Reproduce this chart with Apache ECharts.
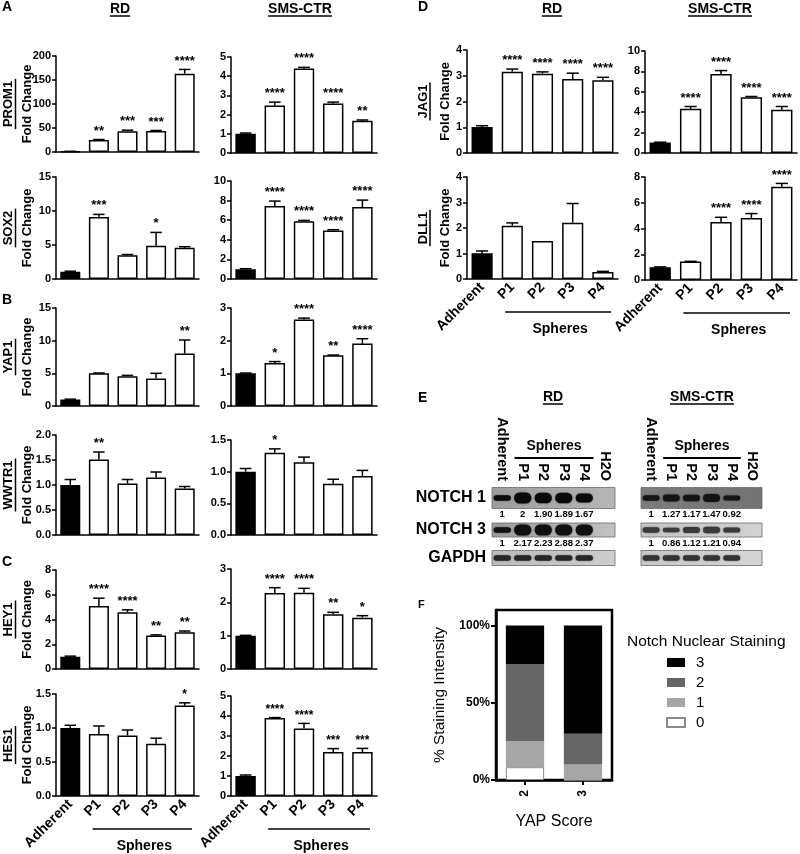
<!DOCTYPE html>
<html>
<head>
<meta charset="utf-8">
<title>Sphere gene expression</title>
<script src="https://cdn.jsdelivr.net/npm/echarts@6/dist/echarts.min.js"></script>
<style>
  html, body { margin: 0; padding: 0; background: #fff; }
  #chart { width: 800px; height: 854px; }
</style>
</head>
<body>
<div id="chart"></div>
<script>
const groups = ['Adherent', 'P1', 'P2', 'P3', 'P4'];

// A - stemness markers (fold change, mean / upper SEM / significance)
const prom1RD = [1, 25, 43, 44, 163];
const prom1RDErr = [0.5, 1, 2.5, 0.8, 9];
const prom1RDSig = ['', '**', '***', '***', '****'];
const prom1SMS = [1.0, 2.48, 4.4, 2.58, 1.68];
const prom1SMSErr = [0.04, 0.17, 0.06, 0.07, 0.04];
const prom1SMSSig = ['', '****', '****', '****', '**'];

const sox2RD = [1.05, 9.1, 3.5, 4.9, 4.6];
const sox2RDErr = [0.1, 0.4, 0.1, 1.95, 0.15];
const sox2RDSig = ['', '***', '', '*', ''];
const sox2SMS = [1.0, 7.45, 5.9, 4.95, 7.35];
const sox2SMSErr = [0.05, 0.5, 0.08, 0.08, 0.7];
const sox2SMSSig = ['', '****', '****', '****', '****'];

// B - YAP / TAZ
const yap1RD = [1.0, 5.0, 4.57, 4.2, 8.05];
const yap1RDErr = [0.05, 0.05, 0.12, 0.8, 2.05];
const yap1RDSig = ['', '', '', '', '**'];
const yap1SMS = [1.0, 1.32, 2.65, 1.55, 1.91];
const yap1SMSErr = [0.01, 0.04, 0.04, 0.01, 0.15];
const yap1SMSSig = ['', '*', '****', '**', '****'];

const wwtr1RD = [1.0, 1.51, 1.03, 1.15, 0.93];
const wwtr1RDErr = [0.11, 0.15, 0.08, 0.11, 0.04];
const wwtr1RDSig = ['', '**', '', '', ''];
const wwtr1SMS = [1.0, 1.3, 1.15, 0.81, 0.93];
const wwtr1SMSErr = [0.05, 0.06, 0.08, 0.07, 0.09];
const wwtr1SMSSig = ['', '*', '', '', ''];

// C - Notch targets
const hey1RD = [1.0, 5.1, 4.58, 2.7, 2.97];
const hey1RDErr = [0.04, 0.62, 0.2, 0.06, 0.1];
const hey1RDSig = ['', '****', '****', '**', '**'];
const hey1SMS = [1.0, 2.28, 2.29, 1.64, 1.54];
const hey1SMSErr = [0.01, 0.16, 0.13, 0.06, 0.06];
const hey1SMSSig = ['', '****', '****', '**', '*'];

const hes1RD = [1.0, 0.91, 0.89, 0.77, 1.33];
const hes1RDErr = [0.04, 0.12, 0.08, 0.08, 0.04];
const hes1RDSig = ['', '', '', '', '*'];
const hes1SMS = [1.0, 3.9, 3.38, 2.2, 2.2];
const hes1SMSErr = [0.05, 0.02, 0.25, 0.17, 0.18];
const hes1SMSSig = ['', '****', '****', '***', '***'];

// D - Notch ligands
const jag1RD = [1.01, 3.16, 3.08, 2.87, 2.83];
const jag1RDErr = [0.05, 0.1, 0.07, 0.23, 0.11];
const jag1RDSig = ['', '****', '****', '****', '****'];
const jag1SMS = [1.04, 4.33, 7.75, 5.47, 4.23];
const jag1SMSErr = [0.02, 0.23, 0.33, 0.07, 0.33];
const jag1SMSSig = ['', '****', '****', '****', '****'];

const dll1RD = [1.01, 2.09, 1.49, 2.21, 0.27];
const dll1RDErr = [0.09, 0.11, 0, 0.75, 0.03];
const dll1RDSig = ['', '', '', '', ''];
const dll1SMS = [1.0, 1.43, 4.5, 4.82, 7.24];
const dll1SMSErr = [0.02, 0.02, 0.37, 0.34, 0.26];
const dll1SMSSig = ['', '', '****', '****', '****'];

// E - RT-PCR gels (lanes, rows, band quantification)
const gelLanes = ['Adherent', 'P1', 'P2', 'P3', 'P4', 'H2O'];
const gelRows = ['NOTCH 1', 'NOTCH 3', 'GAPDH'];
const notch1RD = ['1', '2', '1.90', '1.89', '1.67'];
const notch3RD = ['1', '2.17', '2.23', '2.88', '2.37'];
const gapdhRD = ['1', '1', '1', '1', '1'];
const notch1SMS = ['1', '1.27', '1.17', '1.47', '0.92'];
const notch3SMS = ['1', '0.86', '1.12', '1.21', '0.94'];
const gapdhSMS = ['1', '1', '1', '1', '1'];

// F - Notch nuclear staining by YAP score (% of cases)
const yapScores = ['2', '3'];
const stainLevels = ['0', '1', '2', '3'];
const stain0 = [8.3, 0];
const stain1 = [16.7, 10];
const stain2 = [50, 20];
const stain3 = [25, 70];

const FONT = '"Liberation Sans", Arial, Helvetica, sans-serif';
const chart = echarts.init(document.getElementById('chart'));
const measure = document.createElement('canvas').getContext('2d');
function textW(str, font) { measure.font = font; return measure.measureText(str).width; }

function txt(x, y, text, font, o) {
  o = o || {};
  const al = o.align || 'center', va = o.va || 'middle';
  return { type: 'text', x, y, rotation: o.rot || 0, silent: true, z: 10,
    style: { text, font, fill: '#000', align: al, verticalAlign: va, textAlign: al, textVerticalAlign: va } };
}
function seg(x1, y1, x2, y2, w) {
  return { type: 'line', silent: true, z: 10, shape: { x1, y1, x2, y2 }, style: { stroke: '#000', lineWidth: w || 1.5 } };
}

const grids = [], xAxes = [], yAxes = [], series = [], gfx = [];

function errRender(sig, starSize) {
  return function (params, api) {
    const k = api.value(0), v = api.value(1), e = api.value(2);
    const base = api.coord([k, v]), top = api.coord([k, v + e]);
    const cap = api.size([1, 0])[0] * 0.2;
    const kids = [];
    if (e > 0) {
      kids.push({ type: 'line', shape: { x1: base[0], y1: base[1], x2: top[0], y2: top[1] }, style: { stroke: '#000', lineWidth: 1.5 } });
      kids.push({ type: 'line', shape: { x1: top[0] - cap, y1: top[1], x2: top[0] + cap, y2: top[1] }, style: { stroke: '#000', lineWidth: 1.5 } });
    }
    const s = sig[params.dataIndex];
    if (s) {
      kids.push({ type: 'text', x: top[0], y: top[1] - 2,
        style: { text: s, font: 'bold ' + starSize + 'px ' + FONT, fill: '#000',
          align: 'center', verticalAlign: 'bottom', textAlign: 'center', textVerticalAlign: 'bottom' } });
    }
    return { type: 'group', children: kids };
  };
}

const colABC = { gene: 8, line: 15.5, fold: 27 };
const colD = { gene: 423, line: 430, fold: 445 };

const barPanels = [
  { gene: 'PROM1', v: prom1RD, e: prom1RDErr, s: prom1RDSig, max: 200, step: 50, dec: 0, left: 56, top: 56, width: 143, height: 96, col: colABC },
  { v: prom1SMS, e: prom1SMSErr, s: prom1SMSSig, max: 5, step: 1, dec: 0, left: 231, top: 57, width: 146, height: 96 },
  { gene: 'SOX2', v: sox2RD, e: sox2RDErr, s: sox2RDSig, max: 15, step: 5, dec: 0, left: 56, top: 177, width: 143, height: 102, col: colABC },
  { v: sox2SMS, e: sox2SMSErr, s: sox2SMSSig, max: 10, step: 2, dec: 0, left: 231, top: 181, width: 146, height: 98 },
  { gene: 'YAP1', v: yap1RD, e: yap1RDErr, s: yap1RDSig, max: 15, step: 5, dec: 0, left: 56, top: 308, width: 143, height: 98, col: colABC },
  { v: yap1SMS, e: yap1SMSErr, s: yap1SMSSig, max: 3, step: 1, dec: 0, left: 231, top: 308, width: 146, height: 98 },
  { gene: 'WWTR1', v: wwtr1RD, e: wwtr1RDErr, s: wwtr1RDSig, max: 2, step: 0.5, dec: 1, left: 56, top: 435, width: 143, height: 100, col: colABC },
  { v: wwtr1SMS, e: wwtr1SMSErr, s: wwtr1SMSSig, max: 1.5, step: 0.5, dec: 1, left: 231, top: 440, width: 146, height: 95 },
  { gene: 'HEY1', v: hey1RD, e: hey1RDErr, s: hey1RDSig, max: 8, step: 2, dec: 0, left: 56, top: 570, width: 143, height: 99, col: colABC },
  { v: hey1SMS, e: hey1SMSErr, s: hey1SMSSig, max: 3, step: 1, dec: 0, left: 231, top: 569, width: 146, height: 100 },
  { gene: 'HES1', v: hes1RD, e: hes1RDErr, s: hes1RDSig, max: 1.5, step: 0.5, dec: 1, left: 56, top: 694, width: 143, height: 102, col: colABC, xl: true, star: 12 },
  { v: hes1SMS, e: hes1SMSErr, s: hes1SMSSig, max: 5, step: 1, dec: 0, left: 231, top: 696, width: 146, height: 100, xl: true, star: 12 },
  { gene: 'JAG1', v: jag1RD, e: jag1RDErr, s: jag1RDSig, max: 4, step: 1, dec: 0, left: 467, top: 50, width: 151, height: 103, col: colD },
  { v: jag1SMS, e: jag1SMSErr, s: jag1SMSSig, max: 10, step: 2, dec: 0, left: 645, top: 51, width: 152, height: 102 },
  { gene: 'DLL1', v: dll1RD, e: dll1RDErr, s: dll1RDSig, max: 4, step: 1, dec: 0, left: 467, top: 177, width: 151, height: 102, col: colD, xl: true },
  { v: dll1SMS, e: dll1SMSErr, s: dll1SMSSig, max: 8, step: 2, dec: 0, left: 645, top: 177, width: 152, height: 103, xl: true }
];

const axisBlack = { show: true, lineStyle: { color: '#000', width: 1.5 } };

barPanels.forEach(function (p) {
  const i = grids.length;
  grids.push({ left: p.left, top: p.top, width: p.width, height: p.height, containLabel: false, outerBoundsMode: 'none' });
  xAxes.push({
    type: 'category', gridIndex: i, data: groups,
    axisLine: axisBlack, axisTick: { show: false },
    axisLabel: { show: !!p.xl, interval: 0, rotate: 45, margin: 6, color: '#000', fontWeight: 'bold', fontSize: 14, fontFamily: FONT }
  });
  yAxes.push({
    type: 'value', gridIndex: i, min: 0, max: p.max, interval: p.step,
    axisLine: axisBlack, splitLine: { show: false },
    axisTick: { show: true, length: 4, lineStyle: { color: '#000', width: 1.5 } },
    axisLabel: { color: '#000', fontWeight: 'bold', fontSize: 11, fontFamily: FONT, margin: 5,
      formatter: function (val) { return val.toFixed(p.dec); } }
  });
  series.push({
    type: 'bar', xAxisIndex: i, yAxisIndex: i, barWidth: '70%', silent: true,
    data: p.v.map(function (val, k) { return { value: val, itemStyle: { color: k === 0 ? '#000' : '#fff' } }; }),
    itemStyle: { borderColor: '#000', borderWidth: 1.5 }
  });
  series.push({
    type: 'custom', xAxisIndex: i, yAxisIndex: i, silent: true, z: 4, clip: false,
    data: p.v.map(function (val, k) { return [k, val, p.e[k]]; }),
    renderItem: errRender(p.s, p.star || 13)
  });

  // y-axis title: gene over "Fold Change"
  if (p.gene) {
    const cy = p.top + p.height / 2;
    const gf = 'bold 13px ' + FONT;
    const gw = textW(p.gene, gf);
    gfx.push(txt(p.col.gene, cy, p.gene, gf, { rot: Math.PI / 2 }));
    gfx.push(seg(p.col.line, cy - gw / 2 - 2, p.col.line, cy + gw / 2 + 2, 1.5));
    gfx.push(txt(p.col.fold, cy, 'Fold Change', gf, { rot: Math.PI / 2 }));
  }
  // "Spheres" bracket under P1..P4
  if (p.xl) {
    const band = p.width / groups.length;
    const x1 = p.left + band + 8, x2 = p.left + p.width - 7;
    const yl = p.top + p.height + 33;
    gfx.push(seg(x1, yl, x2, yl, 1.5));
    gfx.push(txt((x1 + x2) / 2 + 2, yl + 17, 'Spheres', 'bold 14px ' + FONT));
  }
});

// ---- E: gels drawn as a custom series on lane / row axes ----
const gelRowH = [21, 14, 15];
const gelRowShift = [1, 7, 9];
const gelPanels = [
  { rows: [notch1RD, notch3RD, gapdhRD], nums: [true, true, false], left: 492, width: 123, names: true,
    bg: [['#9d9d9d', '#b6b6b6'], ['#9c9c9c', '#c2c2c2'], ['#bcbcbc', '#cdcdcd']], band: ['#0a0a0a', '#111', '#262626'] },
  { rows: [notch1SMS, notch3SMS, gapdhSMS], nums: [true, true, false], left: 641, width: 121, names: false,
    bg: [['#7d7d7d', '#727272'], ['#c6c6c6', '#d2d2d2'], ['#c8c8c8', '#d5d5d5']], band: ['#141414', '#3a3a3a', '#333'] }
];

gelPanels.forEach(function (g) {
  const i = grids.length;
  grids.push({ left: g.left, top: 484, width: g.width, height: 78, containLabel: false, outerBoundsMode: 'none' });
  xAxes.push({
    type: 'category', gridIndex: i, position: 'top', data: gelLanes,
    axisLine: { show: false }, axisTick: { show: false },
    axisLabel: { interval: 0, rotate: 90, margin: 3, color: '#000', fontWeight: 'bold', fontSize: 14.5, fontFamily: FONT }
  });
  yAxes.push({
    type: 'category', gridIndex: i, data: gelRows, inverse: true,
    axisLine: { show: false }, axisTick: { show: false }, axisLabel: { show: false }, splitLine: { show: false }
  });
  const data = [];
  gelRows.forEach(function (r, ri) { gelLanes.forEach(function (l, li) { data.push([li, ri]); }); });
  series.push({
    type: 'custom', xAxisIndex: i, yAxisIndex: i, silent: true, clip: false, data: data,
    renderItem: function (params, api) {
      const lane = api.value(0), row = api.value(1);
      const c = api.coord([lane, row]);
      const lw = api.size([1, 0])[0];
      const h = gelRowH[row];
      const cy = c[1] + gelRowShift[row];
      const kids = [];
      if (lane === 0) {
        kids.push({ type: 'rect', shape: { x: c[0] - lw / 2, y: cy - h / 2, width: lw * gelLanes.length, height: h },
          style: { fill: new echarts.graphic.LinearGradient(0, 0, 1, 0, [{ offset: 0, color: g.bg[row][0] }, { offset: 1, color: g.bg[row][1] }]),
            stroke: '#6a6a6a', lineWidth: 0.8 } });
        if (g.names) {
          kids.push({ type: 'text', x: c[0] - lw / 2 - 6, y: cy,
            style: { text: gelRows[row], font: 'bold 16px ' + FONT, fill: '#000', align: 'right', verticalAlign: 'middle', textAlign: 'right', textVerticalAlign: 'middle' } });
        }
      }
      const q = g.rows[row][lane];
      if (q !== undefined) {
        const amt = parseFloat(q);
        const bh = Math.min(h - 3, 5.5 * amt);
        kids.push({ type: 'rect', shape: { x: c[0] - lw * 0.42, y: cy - bh / 2, width: lw * 0.84, height: bh, r: bh / 2 },
          style: { fill: g.band[row], shadowBlur: 2, shadowColor: 'rgba(0,0,0,0.5)' } });
        if (g.nums[row]) {
          kids.push({ type: 'text', x: c[0], y: cy + h / 2 + 6,
            style: { text: q, font: 'bold 9.5px ' + FONT, fill: '#000', align: 'center', verticalAlign: 'middle', textAlign: 'center', textVerticalAlign: 'middle' } });
        }
      }
      return { type: 'group', children: kids };
    }
  });
  const lw = g.width / gelLanes.length;
  const x1 = g.left + lw + 2, x2 = g.left + lw * 5 - 1;
  gfx.push(seg(x1, 458, x2, 458, 2));
  gfx.push(txt((x1 + x2) / 2, 446, 'Spheres', 'bold 14px ' + FONT));
});

// ---- F: stacked percentage bars ----
const fIdx = grids.length;
grids.push({ left: 496, top: 610, width: 116, height: 170, containLabel: false, outerBoundsMode: 'none',
  show: true, borderColor: '#000', borderWidth: 2.5, backgroundColor: 'transparent' });
xAxes.push({
  type: 'category', gridIndex: fIdx, data: yapScores,
  name: 'YAP Score', nameLocation: 'middle', nameGap: 34,
  nameTextStyle: { color: '#000', fontSize: 16, fontFamily: FONT },
  axisLine: { show: true, lineStyle: { color: '#000', width: 2.5 } },
  axisTick: { show: true, alignWithLabel: true, length: 5, lineStyle: { color: '#000', width: 2 } },
  axisLabel: { rotate: 90, margin: 10, color: '#000', fontWeight: 'bold', fontSize: 12, fontFamily: FONT }
});
yAxes.push({
  type: 'value', gridIndex: fIdx, min: 0, max: 110, interval: 50,
  name: '% Staining Intensity', nameLocation: 'middle', nameGap: 48, nameRotate: 90,
  nameTextStyle: { color: '#000', fontSize: 15.5, fontFamily: FONT },
  axisLine: { show: true, lineStyle: { color: '#000', width: 2.5 } },
  axisTick: { show: true, length: 5, lineStyle: { color: '#000', width: 2 } },
  splitLine: { show: false },
  axisLabel: { showMaxLabel: false, color: '#000', fontWeight: 'bold', fontSize: 12, fontFamily: FONT, margin: 6,
    formatter: function (v) { return v + '%'; } }
});
const stainColors = ['#ffffff', '#a6a6a6', '#666666', '#000000'];
[stain0, stain1, stain2, stain3].forEach(function (d, k) {
  series.push({
    type: 'bar', name: stainLevels[k], stack: 'notch', xAxisIndex: fIdx, yAxisIndex: fIdx,
    barWidth: '66%', silent: true, data: d,
    itemStyle: { color: stainColors[k], borderColor: k === 0 ? '#8a8a8a' : stainColors[k], borderWidth: k === 0 ? 1 : 0 }
  });
});

// ---- section letters and cell-line headers ----
const lf = 'bold 14px ' + FONT;
gfx.push(txt(2, 7, 'A', lf, { align: 'left' }));
gfx.push(txt(2, 300, 'B', lf, { align: 'left' }));
gfx.push(txt(2, 562, 'C', lf, { align: 'left' }));
gfx.push(txt(418, 7, 'D', lf, { align: 'left' }));
gfx.push(txt(418, 398, 'E', lf, { align: 'left' }));
gfx.push(txt(418, 605, 'F', 'bold 11px ' + FONT, { align: 'left' }));

function header(cx, cy, text) {
  const f = 'bold 14px ' + FONT;
  const w = textW(text, f);
  gfx.push(txt(cx, cy, text, f));
  gfx.push(seg(cx - w / 2, cy + 7, cx + w / 2, cy + 7, 1.5));
}
header(120, 9, 'RD');
header(300, 9, 'SMS-CTR');
header(552, 9, 'RD');
header(720, 9, 'SMS-CTR');
header(553, 397, 'RD');
header(702, 397, 'SMS-CTR');

chart.setOption({
  animation: false,
  backgroundColor: '#fff',
  textStyle: { fontFamily: FONT },
  title: { text: 'Notch Nuclear Staining', left: 622, top: 629,
    textStyle: { color: '#000', fontSize: 15.5, fontWeight: 'normal', fontFamily: FONT } },
  legend: {
    data: ['3', '2', '1', '0'], orient: 'vertical', left: 661, top: 650,
    icon: 'rect', itemWidth: 18, itemHeight: 9, itemGap: 5, selectedMode: false,
    textStyle: { color: '#000', fontSize: 15, fontFamily: FONT, lineHeight: 15, padding: [0, 0, 0, 6] }
  },
  grid: grids,
  xAxis: xAxes,
  yAxis: yAxes,
  series: series,
  graphic: { elements: gfx }
});
</script>
</body>
</html>
